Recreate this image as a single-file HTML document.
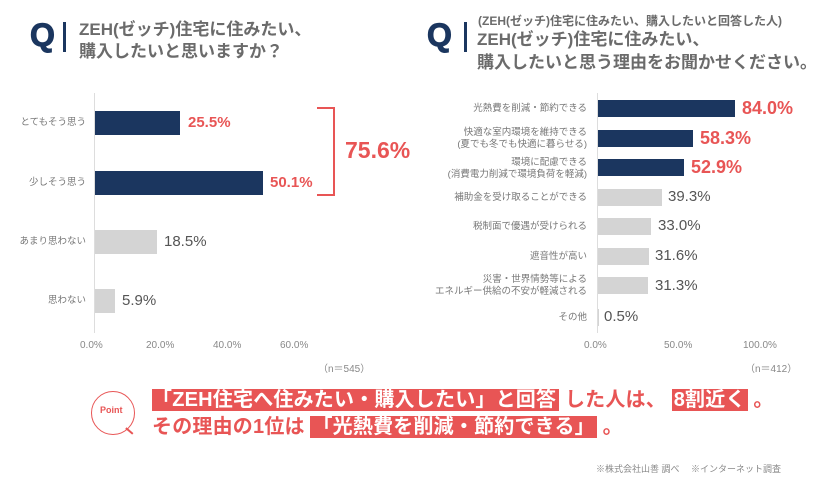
<!DOCTYPE html>
<html><head><meta charset="utf-8"><style>
body{margin:0;width:820px;height:484px;background:#fff;position:relative;overflow:hidden;font-family:"Liberation Sans","Noto Sans CJK JP",sans-serif}
.a{position:absolute;white-space:nowrap}
.q{font-weight:900;color:#1b365f;font-size:32px;font-family:"Liberation Sans",sans-serif;-webkit-text-stroke:1px #1b365f}
.t{font-weight:bold;color:#6b6b6b;font-size:17px;line-height:22px}
.lb{font-size:9.5px;color:#777;text-align:right;line-height:12px}
.tk{font-size:10px;color:#888}
.nv{background:#1b365f}
.gr{background:#d4d4d4}
.rv{color:#e85555;font-weight:bold}
.gv{color:#555}
.hl{background:#e85555;color:#fff;padding:0 2px}
</style></head><body>
<div class="a q" style="left:30px;top:17px">Q</div>
<div class="a" style="left:63px;top:22px;width:3px;height:30px;background:#1b365f"></div>
<div class="a t" style="left:79px;top:19px">ZEH(ゼッチ)住宅に住みたい、<br>購入したいと思いますか？</div>

<div class="a q" style="left:427px;top:17px">Q</div>
<div class="a" style="left:464px;top:22px;width:3px;height:30px;background:#1b365f"></div>
<div class="a" style="left:478px;top:12px;font-size:12px;font-weight:bold;color:#6b6b6b">(ZEH(ゼッチ)住宅に住みたい、購入したいと回答した人)</div>
<div class="a t" style="left:477px;top:28px;line-height:23px">ZEH(ゼッチ)住宅に住みたい、<br>購入したいと思う理由をお聞かせください。</div>

<!-- left chart -->
<div class="a" style="left:94px;top:93px;width:1px;height:240px;background:#ddd"></div>
<div class="a lb" style="right:734px;top:117px">とてもそう思う</div>
<div class="a nv" style="left:95px;top:111px;width:85px;height:24px"></div>
<div class="a rv" style="left:188px;top:114px;font-size:15px">25.5%</div>
<div class="a lb" style="right:734px;top:177px">少しそう思う</div>
<div class="a nv" style="left:95px;top:171px;width:168px;height:24px"></div>
<div class="a rv" style="left:270px;top:174px;font-size:15px">50.1%</div>
<div class="a lb" style="right:734px;top:236px">あまり思わない</div>
<div class="a gr" style="left:95px;top:230px;width:62px;height:24px"></div>
<div class="a gv" style="left:164px;top:233px;font-size:15px">18.5%</div>
<div class="a lb" style="right:734px;top:295px">思わない</div>
<div class="a gr" style="left:95px;top:289px;width:20px;height:24px"></div>
<div class="a gv" style="left:122px;top:292px;font-size:15px">5.9%</div>
<div class="a tk" style="left:80px;top:340px">0.0%</div>
<div class="a tk" style="left:146px;top:340px">20.0%</div>
<div class="a tk" style="left:213px;top:340px">40.0%</div>
<div class="a tk" style="left:280px;top:340px">60.0%</div>
<div class="a tk" style="left:318px;top:360px">（n＝545）</div>
<div class="a" style="left:317px;top:107px;width:18px;height:89px;border:2px solid #e85555;border-left:none;box-sizing:border-box"></div>
<div class="a rv" style="left:345px;top:137px;font-size:23px">75.6%</div>

<!-- right chart -->
<div class="a" style="left:597px;top:93px;width:1px;height:240px;background:#ddd"></div>
<div class="a lb" style="right:233px;top:103px">光熱費を削減・節約できる</div>
<div class="a nv" style="left:598px;top:100px;width:137px;height:17px"></div>
<div class="a rv" style="left:742px;top:98px;font-size:18px">84.0%</div>
<div class="a lb" style="right:233px;top:127px">快適な室内環境を維持できる<br>(夏でも冬でも快適に暮らせる)</div>
<div class="a nv" style="left:598px;top:130px;width:95px;height:17px"></div>
<div class="a rv" style="left:700px;top:128px;font-size:18px">58.3%</div>
<div class="a lb" style="right:233px;top:157px">環境に配慮できる<br>(消費電力削減で環境負荷を軽減)</div>
<div class="a nv" style="left:598px;top:159px;width:86px;height:17px"></div>
<div class="a rv" style="left:691px;top:157px;font-size:18px">52.9%</div>
<div class="a lb" style="right:233px;top:192px">補助金を受け取ることができる</div>
<div class="a gr" style="left:598px;top:189px;width:64px;height:17px"></div>
<div class="a gv" style="left:668px;top:188px;font-size:15px">39.3%</div>
<div class="a lb" style="right:233px;top:221px">税制面で優遇が受けられる</div>
<div class="a gr" style="left:598px;top:218px;width:53px;height:17px"></div>
<div class="a gv" style="left:658px;top:217px;font-size:15px">33.0%</div>
<div class="a lb" style="right:233px;top:251px">遮音性が高い</div>
<div class="a gr" style="left:598px;top:248px;width:51px;height:17px"></div>
<div class="a gv" style="left:655px;top:247px;font-size:15px">31.6%</div>
<div class="a lb" style="right:233px;top:274px">災害・世界情勢等による<br>エネルギー供給の不安が軽減される</div>
<div class="a gr" style="left:598px;top:277px;width:50px;height:17px"></div>
<div class="a gv" style="left:655px;top:277px;font-size:15px">31.3%</div>
<div class="a lb" style="right:233px;top:312px">その他</div>
<div class="a" style="left:598px;top:309px;width:1px;height:17px;background:#d4d4d4"></div>
<div class="a gv" style="left:604px;top:308px;font-size:15px">0.5%</div>
<div class="a tk" style="left:584px;top:340px">0.0%</div>
<div class="a tk" style="left:664px;top:340px">50.0%</div>
<div class="a tk" style="left:743px;top:340px">100.0%</div>
<div class="a tk" style="left:745px;top:360px">（n＝412）</div>

<!-- point -->
<div class="a" style="left:91px;top:391px;width:42px;height:42px;border:1.5px solid #e85555;border-radius:50%"></div>
<div class="a" style="left:125px;top:430px;width:9px;height:1.5px;background:#e85555;transform:rotate(40deg)"></div>
<div class="a" style="left:100px;top:405px;font-size:9px;font-weight:bold;color:#e85555">Point</div>
<div class="a" style="left:152px;top:387px;font-size:20px;font-weight:bold;color:#e85555;line-height:27px;letter-spacing:0.2px"><span class="hl" style="padding:0 3px 0 0">「ZEH住宅へ住みたい・購入したい」と回答</span> した人は、 <span class="hl">8割近く</span> 。<br>その理由の1位は <span class="hl">「光熱費を削減・節約できる」</span> 。</div>
<div class="a" style="left:596px;top:462px;font-size:9px;color:#888">※株式会社山善 調べ　 ※インターネット調査</div>
</body></html>
